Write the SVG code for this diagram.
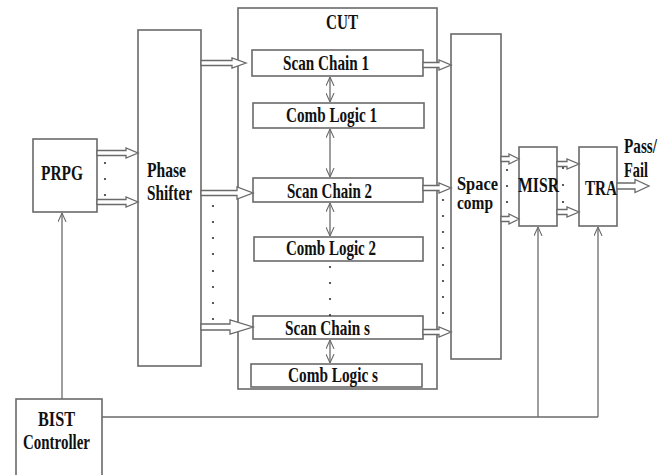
<svg xmlns="http://www.w3.org/2000/svg" width="670" height="475" viewBox="0 0 670 475">
<style>
.box{fill:#fff;stroke:#6a6a6a;stroke-width:1.6}
.cut{fill:none;stroke:#6a6a6a;stroke-width:1.6}
.t{font-family:"Liberation Serif","Times New Roman",serif;font-weight:bold;font-size:21px;fill:#111}
.s{font-size:19px}
.fat{fill:#fff;stroke:#6a6a6a;stroke-width:1.3}
.ln{fill:none;stroke:#6a6a6a;stroke-width:1.3}
.bi{fill:none;stroke:#6a6a6a;stroke-width:1.3;marker-start:url(#ah);marker-end:url(#ah)}
.up{fill:none;stroke:#6a6a6a;stroke-width:1.3;marker-end:url(#ah)}
.dot{fill:#333}
</style>
<defs>
<marker id="ah" viewBox="0 0 10 10" refX="10" refY="5" markerWidth="9" markerHeight="9" markerUnits="userSpaceOnUse" orient="auto-start-reverse">
<path d="M0,0.5 L10,5 L0,9.5" fill="none" stroke="#6a6a6a" stroke-width="1.2"/>
</marker>
</defs>
<rect width="670" height="475" fill="#fff"/>

<g id="cut">
<rect class="cut" x="238" y="8" width="199" height="381"/>
<text class="t" x="326" y="29" textLength="32" lengthAdjust="spacingAndGlyphs">CUT</text>
</g>
<g id="scan1">
<rect class="box" x="252" y="50" width="171" height="26"/>
<text class="t" x="283" y="70" textLength="86" lengthAdjust="spacingAndGlyphs">Scan Chain 1</text>
</g>
<g id="comb1">
<rect class="box" x="253" y="103" width="171" height="25"/>
<text class="t" x="286" y="122" textLength="91" lengthAdjust="spacingAndGlyphs">Comb Logic 1</text>
</g>
<g id="scan2">
<rect class="box" x="253" y="178" width="170" height="24"/>
<text class="t" x="287" y="198" textLength="85" lengthAdjust="spacingAndGlyphs">Scan Chain 2</text>
</g>
<g id="comb2">
<rect class="box" x="254" y="237" width="169" height="24"/>
<text class="t" x="286" y="255" textLength="90" lengthAdjust="spacingAndGlyphs">Comb Logic 2</text>
</g>
<g id="scans">
<rect class="box" x="253" y="316" width="170" height="23"/>
<text class="t" x="285" y="335" textLength="85" lengthAdjust="spacingAndGlyphs">Scan Chain s</text>
</g>
<g id="combs">
<rect class="box" x="251" y="364" width="171" height="23"/>
<text class="t" x="288" y="382" textLength="90" lengthAdjust="spacingAndGlyphs">Comb Logic s</text>
</g>
<g id="prpg">
<rect class="box" x="33" y="139" width="64" height="73"/>
<text class="t" x="41" y="180" textLength="42" lengthAdjust="spacingAndGlyphs">PRPG</text>
</g>
<g id="phase-shifter">
<rect class="box" x="138" y="30" width="63" height="336"/>
<text class="t" x="147" y="177" textLength="39" lengthAdjust="spacingAndGlyphs">Phase</text>
<text class="t" x="147" y="200" textLength="45" lengthAdjust="spacingAndGlyphs">Shifter</text>
</g>
<g id="space-comp">
<rect class="box" x="451" y="34" width="50" height="325"/>
<text class="t s" x="457" y="190" textLength="41" lengthAdjust="spacingAndGlyphs">Space</text>
<text class="t s" x="457" y="209" textLength="36" lengthAdjust="spacingAndGlyphs">comp</text>
</g>
<g id="misr">
<rect class="box" x="519" y="147" width="38" height="79"/>
<text class="t" x="518" y="192" textLength="41" lengthAdjust="spacingAndGlyphs">MISR</text>
</g>
<g id="tra">
<rect class="box" x="579" y="147" width="38" height="79"/>
<text class="t" x="585" y="195" textLength="32" lengthAdjust="spacingAndGlyphs">TRA</text>
</g>
<g id="pass-fail">
<text class="t" x="624" y="153" textLength="33" lengthAdjust="spacingAndGlyphs">Pass/</text>
<text class="t" x="624" y="177" textLength="24" lengthAdjust="spacingAndGlyphs">Fail</text>
</g>
<g id="bist">
<rect class="box" x="16" y="399" width="86" height="90"/>
<text class="t" x="38" y="426" textLength="37" lengthAdjust="spacingAndGlyphs">BIST</text>
<text class="t" x="23" y="449" textLength="67" lengthAdjust="spacingAndGlyphs">Controller</text>
</g>

<g id="connectors">
<path class="fat" d="M97,150.5 H126 V148 L138,153 L126,158 V155.5 H97 Z"/>
<path class="fat" d="M97,199.5 H126 V197 L138,202 L126,207 V204.5 H97 Z"/>
<path class="fat" d="M201,60.5 H232 V58 L246,63 L232,68 V65.5 H201 Z"/>
<path class="fat" d="M201,190.5 H237 V187 L253,193 L237,199 V195.5 H201 Z"/>
<path class="fat" d="M201,324 H230 V320 L253,327 L230,334 V330 H201 Z"/>
<path class="fat" d="M423,62.5 H439 V60 L451,65 L439,70 V67.5 H423 Z"/>
<path class="fat" d="M423,185.5 H439 V183 L451,188 L439,193 V190.5 H423 Z"/>
<path class="fat" d="M423,329.5 H439 V327 L451,332 L439,337 V334.5 H423 Z"/>
<path class="fat" d="M501,156.5 H509 V154 L519,159 L509,164 V161.5 H501 Z"/>
<path class="fat" d="M501,216.5 H509 V214 L519,219 L509,224 V221.5 H501 Z"/>
<path class="fat" d="M557,161.5 H567 V159 L579,164 L567,169 V166.5 H557 Z"/>
<path class="fat" d="M557,209.5 H567 V207 L579,212 L567,217 V214.5 H557 Z"/>
<path class="fat" d="M617,183 H635 V179.5 L649,186 L635,192.5 V189 H617 Z"/>
<line class="bi" x1="330" y1="77" x2="330" y2="102"/>
<line class="bi" x1="330" y1="129" x2="330" y2="177"/>
<line class="bi" x1="330" y1="203" x2="330" y2="236"/>
<line class="bi" x1="330" y1="340" x2="330" y2="363"/>
<line class="up" x1="62" y1="399" x2="62" y2="213"/>
<polyline class="ln" points="102,417 598,417"/>
<line class="up" x1="538" y1="417" x2="538" y2="227"/>
<line class="up" x1="598" y1="417" x2="598" y2="227"/>
<g class="dot">
<circle cx="105" cy="163" r="1.1"/><circle cx="105" cy="179" r="1.1"/><circle cx="105" cy="195" r="1.1"/>
<circle cx="213" cy="206" r="1.1"/><circle cx="213" cy="222" r="1.1"/><circle cx="213" cy="238" r="1.1"/><circle cx="213" cy="254" r="1.1"/><circle cx="213" cy="271" r="1.1"/><circle cx="213" cy="287" r="1.1"/><circle cx="213" cy="303" r="1.1"/><circle cx="213" cy="319" r="1.1"/>
<circle cx="443" cy="200" r="1.1"/><circle cx="443" cy="216" r="1.1"/><circle cx="443" cy="232" r="1.1"/><circle cx="443" cy="248" r="1.1"/><circle cx="443" cy="265" r="1.1"/><circle cx="443" cy="281" r="1.1"/><circle cx="443" cy="297" r="1.1"/><circle cx="443" cy="313" r="1.1"/>
<circle cx="330" cy="267" r="1.1"/><circle cx="330" cy="283" r="1.1"/><circle cx="330" cy="299" r="1.1"/><circle cx="330" cy="315" r="1.1"/>
<circle cx="507" cy="170" r="1.1"/><circle cx="507" cy="186" r="1.1"/><circle cx="507" cy="202" r="1.1"/>
<circle cx="563" cy="168" r="1.1"/><circle cx="563" cy="185" r="1.1"/><circle cx="563" cy="202" r="1.1"/>
</g>
</g>
</svg>
